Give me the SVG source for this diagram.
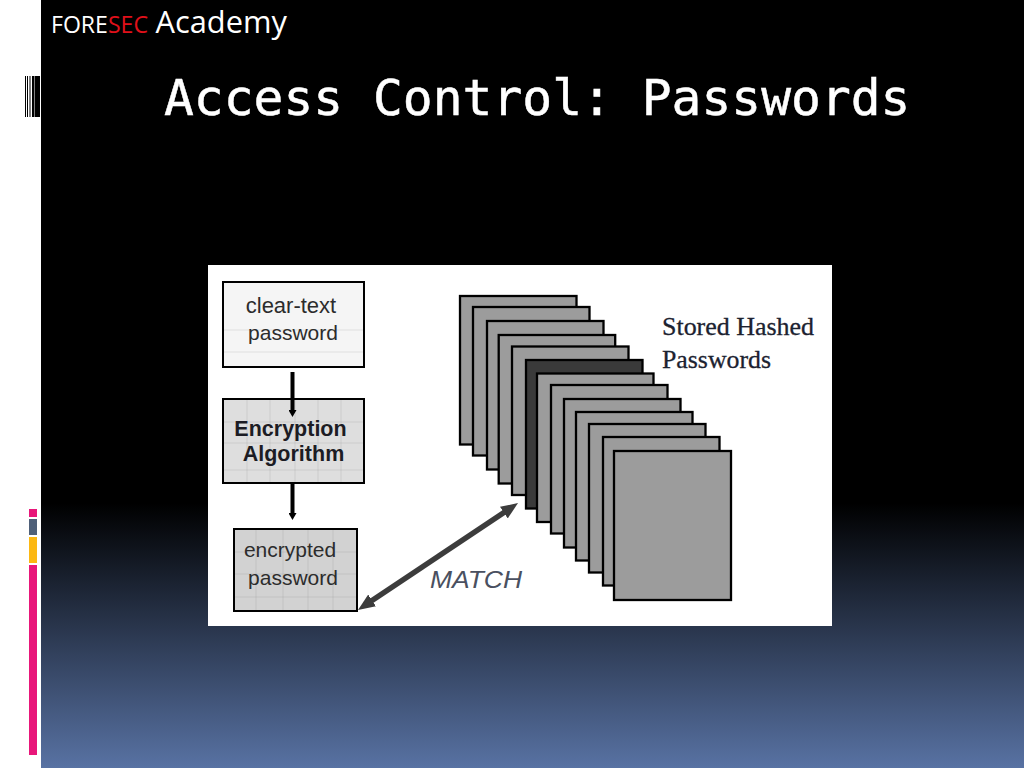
<svg xmlns="http://www.w3.org/2000/svg" width="1024" height="768" viewBox="0 0 1024 768">
<style>
.sheet{fill:#9c9c9c;stroke:#000;stroke-width:2.300}
.box{stroke:#000;stroke-width:2}
.grid{stroke:#888;stroke-width:1;opacity:.2;fill:none}
.t{font-family:"Liberation Sans",Arial,sans-serif;font-size:21px;fill:#2c2c2c;text-anchor:middle}
.b{font-family:"Liberation Sans",Arial,sans-serif;font-size:21.500px;font-weight:bold;fill:#1c1c24;text-anchor:middle}
.s{font-family:"Liberation Serif","Times New Roman",serif;font-size:25.800px;fill:#1c2230;stroke:#1c2230;stroke-width:.3}
.h{font-family:"Open Sans","Noto Sans",sans-serif;fill:#fff}
</style>
<defs>
<linearGradient id="bg" x1="0" y1="0" x2="0" y2="1">
<stop offset="0" stop-color="#000"/>
<stop offset=".655" stop-color="#000"/>
<stop offset="1" stop-color="#5872a3"/>
</linearGradient>
<marker id="blk" markerUnits="userSpaceOnUse" markerWidth="8" markerHeight="8" refX="1" refY="4" orient="auto"><path d="M0 0L7 4L0 8Z" fill="#000"/></marker>
<marker id="gry" markerUnits="userSpaceOnUse" markerWidth="18" markerHeight="16" refX="1" refY="8" orient="auto-start-reverse"><path d="M0 1L17 8L0 15Z" fill="#3c3c3c"/></marker>
</defs>

<g id="background">
<rect width="1024" height="768" fill="#fff"/>
<rect x="41" width="983" height="768" fill="url(#bg)"/>
<g fill="#000">
<rect x="25" y="76" width="1" height="41"/>
<rect x="27" y="76" width="1" height="41"/>
<rect x="29.500" y="76" width="1" height="41"/>
<rect x="32" y="76" width="2.500" height="41"/>
<rect x="35" y="76" width="5" height="41"/>
</g>
<rect x="29" y="509" width="8" height="8" fill="#e8177a"/>
<rect x="29" y="519" width="8" height="16" fill="#4f6079"/>
<rect x="29" y="537" width="8" height="26" fill="#fcb813"/>
<rect x="29" y="565" width="8" height="190" fill="#e8177a"/>
</g>

<g id="header">
<text class="h" x="51" y="33" font-size="23" textLength="97" lengthAdjust="spacingAndGlyphs">FORE<tspan fill="#e0101a">SEC</tspan></text>
<text class="h" x="155.500" y="33" font-size="30.800">Academy</text>
</g>
<text id="title" x="164" y="115" font-family="'DejaVu Sans Mono',monospace" font-size="49.600" fill="#fff" stroke="#fff" stroke-width=".5">Access Control: Passwords</text>

<rect id="panel" x="208" y="265" width="624" height="361" fill="#fff"/>

<g id="sheets">
<rect class="sheet" x="460" y="296" width="116.500" height="148.500"/>
<rect class="sheet" x="473" y="307" width="116.500" height="148.500"/>
<rect class="sheet" x="487" y="321" width="116.500" height="148.500"/>
<rect class="sheet" x="498.700" y="335" width="116.500" height="148.500"/>
<rect class="sheet" x="512" y="346.500" width="116.500" height="148.500"/>
<rect class="sheet" x="526" y="360" width="116.500" height="148.500" style="fill:#3a3a3a"/>
<rect class="sheet" x="537" y="373.500" width="116.500" height="148.500"/>
<rect class="sheet" x="551" y="385" width="116.500" height="148.500"/>
<rect class="sheet" x="564" y="399" width="116.500" height="148.500"/>
<rect class="sheet" x="576" y="412" width="116.500" height="148.500"/>
<rect class="sheet" x="589" y="424" width="116.500" height="148.500"/>
<rect class="sheet" x="603" y="437" width="116.500" height="148.500"/>
<rect class="sheet" x="614" y="451" width="117" height="149"/>
</g>

<g id="stored-label">
<text class="s" x="662" y="335" textLength="152" lengthAdjust="spacingAndGlyphs">Stored Hashed</text>
<text class="s" x="662" y="368" textLength="109" lengthAdjust="spacingAndGlyphs">Passwords</text>
</g>

<g id="clear-text">
<rect class="box" x="223" y="282" width="141" height="85" fill="#f5f5f5"/>
<path class="grid" d="M224 330H363M224 352H363"/>
<text class="t" x="291" y="313" style="font-size:22px">clear-text</text>
<text class="t" x="293" y="340">password</text>
</g>

<g id="encryption">
<rect class="box" x="223" y="399" width="141" height="84" fill="#dedede"/>
<path class="grid" d="M224 422H363M224 443H363M224 470H363M247 400V482M270 400V482M295 400V482M318 400V482M341 400V482"/>
<text class="b" x="290.500" y="436">Encryption</text>
<text class="b" x="293.500" y="461">Algorithm</text>
</g>

<g id="encrypted">
<rect class="box" x="234" y="529" width="123" height="82" fill="#d2d2d2"/>
<path class="grid" d="M235 552H356M235 574H356M235 597H356M256 530V610M283 530V610M308 530V610M333 530V610"/>
<text class="t" x="290" y="557">encrypted</text>
<text class="t" x="293" y="585">password</text>
</g>

<g id="connectors">
<line x1="292.500" y1="372" x2="292.500" y2="411" stroke="#000" stroke-width="4" marker-end="url(#blk)"/>
<line x1="292.500" y1="484" x2="292.500" y2="514" stroke="#000" stroke-width="4" marker-end="url(#blk)"/>
<line x1="371.300" y1="601" x2="504.700" y2="512" stroke="#3c3c3c" stroke-width="5.500" marker-start="url(#gry)" marker-end="url(#gry)"/>
</g>

<text id="match" x="430" y="588" font-family="'Liberation Sans',Arial,sans-serif" font-style="italic" font-size="24" fill="#4a5060" textLength="92" lengthAdjust="spacingAndGlyphs">MATCH</text>
</svg>
